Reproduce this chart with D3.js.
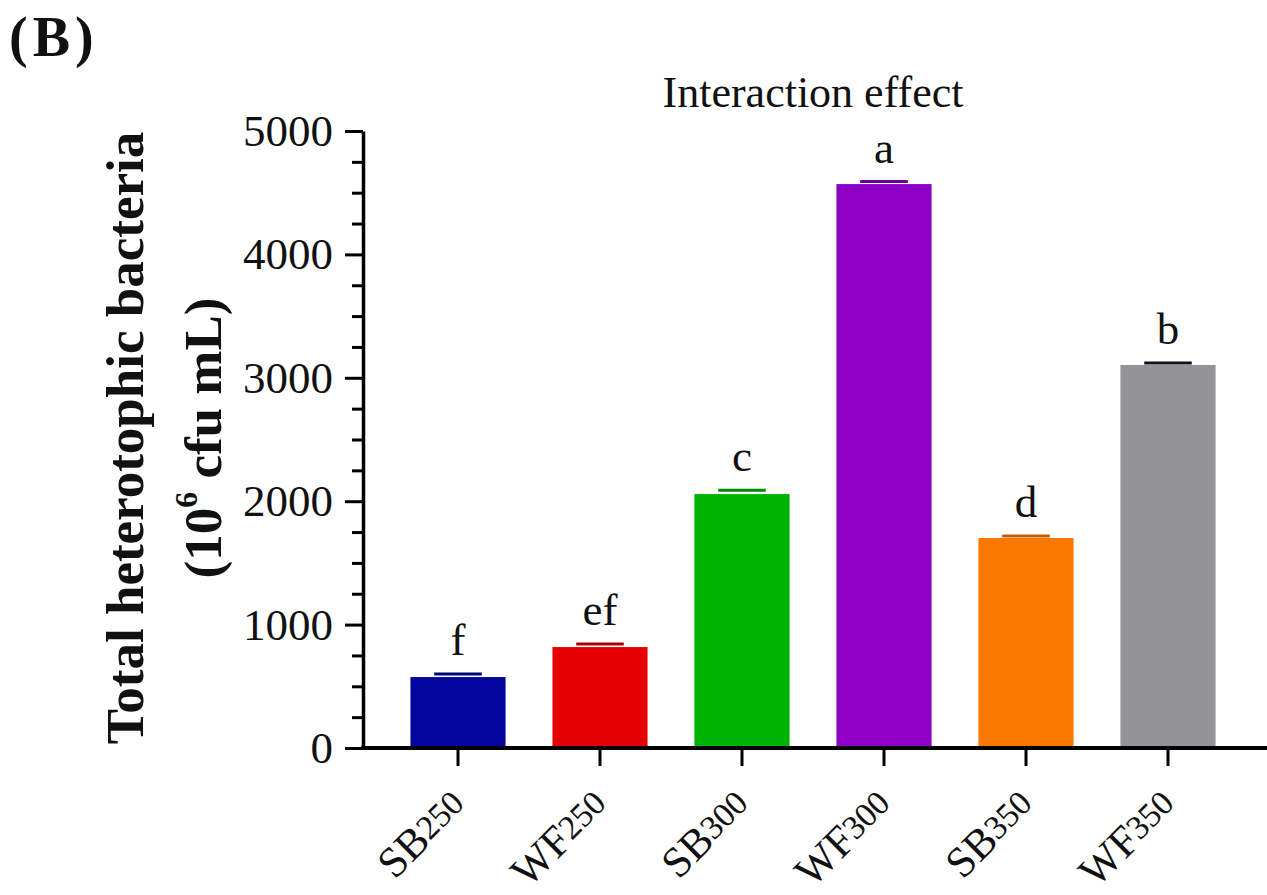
<!DOCTYPE html>
<html>
<head>
<meta charset="utf-8">
<script src="https://cdn.jsdelivr.net/npm/d3@7"></script>
<style>
  body { margin: 0; background: #fff; }
  svg { display: block; }
  text { font-family: "Liberation Serif", "Times New Roman", serif; fill: #111; }
</style>
</head>
<body>
<svg id="chart" width="1267" height="895"></svg>
<script>
// data
var categories = ["SB250", "WF250", "SB300", "WF300", "SB350", "WF350"];
var values = [575, 818, 2058, 4570, 1702, 3104];
var errors = [25, 25, 30, 20, 15, 15];
var letters = ["f", "ef", "c", "a", "d", "b"];
var yTicks = [0, 1000, 2000, 3000, 4000, 5000];
var yMinorTicks = d3.range(0, 5001, 250);

var barColors = ["#0505a0", "#e40000", "#00b300", "#8e00c6", "#fb7800", "#939398"];
var capColors = ["#00007a", "#a80000", "#008a00", "#6a0096", "#c85a00", "#111111"];

var svg = d3.select("#chart");
var axisX = 363, baseY = 748, width = 1267;

var y = d3.scaleLinear().domain([0, 5000]).range([baseY, 131]);
var x = d3.scaleBand()
    .domain(categories)
    .range([387, 1239])
    .paddingInner(0.33)
    .paddingOuter(0.165);

var rows = categories.map(function (c, i) {
    return { cat: c, value: values[i], err: errors[i], letter: letters[i], color: barColors[i], cap: capColors[i] };
});

// bars
svg.append("g").selectAll("rect")
    .data(rows)
    .enter().append("rect")
    .attr("x", d => x(d.cat))
    .attr("width", x.bandwidth())
    .attr("y", d => y(d.value))
    .attr("height", d => y(0) - y(d.value))
    .attr("fill", d => d.color);

// error bar caps (only the upper half shows above the bar)
var capW = x.bandwidth() / 2;
svg.append("g").selectAll("line")
    .data(rows)
    .enter().append("line")
    .attr("x1", d => x(d.cat) + x.bandwidth() / 2 - capW / 2)
    .attr("x2", d => x(d.cat) + x.bandwidth() / 2 + capW / 2)
    .attr("y1", d => y(d.value + d.err))
    .attr("y2", d => y(d.value + d.err))
    .attr("stroke", d => d.cap)
    .attr("stroke-width", 3);

// significance letters
svg.append("g").selectAll("text")
    .data(rows)
    .enter().append("text")
    .attr("x", d => x(d.cat) + x.bandwidth() / 2)
    .attr("y", d => y(d.value + d.err) - 19)
    .attr("text-anchor", "middle")
    .attr("font-size", 45)
    .text(d => d.letter);

// y axis
var yAxis = svg.append("g")
    .attr("transform", "translate(" + axisX + ",0)")
    .call(d3.axisLeft(y).tickValues(yTicks).tickSize(18).tickSizeOuter(0).tickPadding(12).tickFormat(d3.format("d")));
yAxis.select(".domain").attr("stroke", "#000").attr("stroke-width", 3.5);
yAxis.selectAll(".tick line").attr("stroke", "#000").attr("stroke-width", 3);
yAxis.selectAll(".tick text")
    .attr("font-size", 45)
    .attr("font-family", "Liberation Serif, Times New Roman, serif")
    .attr("fill", "#222");

svg.append("g")
    .attr("transform", "translate(" + axisX + ",0)")
    .call(d3.axisLeft(y).tickValues(yMinorTicks.filter(v => yTicks.indexOf(v) < 0)).tickSize(11).tickFormat(""))
    .call(g => g.select(".domain").remove())
    .selectAll(".tick line").attr("stroke", "#000").attr("stroke-width", 3);

// x axis
var xAxis = svg.append("g")
    .attr("transform", "translate(0," + baseY + ")")
    .call(d3.axisBottom(x).tickSize(18).tickSizeOuter(0).tickFormat(""));
xAxis.select(".domain").remove();
xAxis.selectAll(".tick line").attr("stroke", "#000").attr("stroke-width", 3);

svg.append("line")
    .attr("x1", axisX - 1.75).attr("x2", width)
    .attr("y1", baseY).attr("y2", baseY)
    .attr("stroke", "#000").attr("stroke-width", 4);

// rotated category labels, digits set smaller
var xl = xAxis.selectAll(".tick").append("text")
    .attr("text-anchor", "end")
    .attr("transform", "translate(10,59) rotate(-45)")
    .attr("font-size", 43)
    .attr("fill", "#222");
xl.append("tspan").text(d => d.match(/^[A-Z]+/)[0]);
xl.append("tspan").attr("font-size", 34).attr("dy", -3).text(d => d.match(/\d+$/)[0]);

// title and panel tag
svg.append("text")
    .attr("x", 813).attr("y", 107)
    .attr("text-anchor", "middle")
    .attr("font-size", 44)
    .text("Interaction effect");

svg.append("text")
    .attr("x", 9).attr("y", 56)
    .attr("font-size", 56)
    .attr("font-weight", "bold")
    .attr("letter-spacing", 5)
    .text("(B)");

// y axis title, two lines
svg.append("text")
    .attr("transform", "translate(143,438) rotate(-90)")
    .attr("text-anchor", "middle")
    .attr("font-size", 53)
    .attr("font-weight", "bold")
    .text("Total heterotophic bacteria");

var yl2 = svg.append("text")
    .attr("transform", "translate(221,438) rotate(-90)")
    .attr("text-anchor", "middle")
    .attr("font-size", 53)
    .attr("font-weight", "bold");
yl2.append("tspan").text("(10");
yl2.append("tspan").attr("font-size", 32).attr("dy", -24).text("6");
yl2.append("tspan").attr("dy", 24).text(" cfu mL)");
</script>
</body>
</html>
